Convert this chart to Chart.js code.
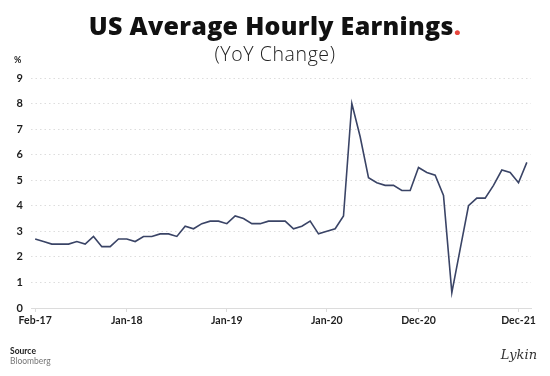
<!DOCTYPE html>
<html>
<head>
<meta charset="utf-8">
<script src="https://cdn.jsdelivr.net/npm/chart.js@4/dist/chart.umd.min.js"></script>
<style>
  body { margin: 0; background: #fff; }
  #wrap { position: relative; width: 550px; height: 376px; font-family: Lato, 'Open Sans', sans-serif; }
  canvas { position: absolute; left: 0; top: 0; }
  .title { position: absolute; left: 0; width: 550px; top: 13px; line-height: 25px; text-align: center; font-family: 'Open Sans', sans-serif; font-size: 25px; font-weight: 800; color: #111; letter-spacing: 0.3px; }
  .title span { color: #e8473e; }
  .sub { position: absolute; left: 0; width: 550px; top: 44px; line-height: 19px; text-align: center; font-family: 'Open Sans', sans-serif; font-size: 19.5px; font-weight: 300; color: #222; letter-spacing: 0.6px; }
  .pct { position: absolute; left: 14px; top: 54px; font-size: 9px; font-weight: 700; color: #222; }
  .src { position: absolute; left: 10px; top: 346px; font-size: 8.5px; line-height: 10px; color: #222; }
  .src b { font-weight: 700; }
  .src div { color: #777; }
  .sig { position: absolute; right: 13px; top: 347px; font-family: 'DejaVu Serif', serif; font-style: italic; font-size: 13px; color: #333; }
</style>
</head>
<body>
<div id="wrap">
  <canvas id="chart" width="550" height="376"></canvas>
  <div class="title">US Average Hourly Earnings<span>.</span></div>
  <div class="sub">(YoY Change)</div>
  <div class="pct">%</div>
  <div class="src"><b>Source</b><div>Bloomberg</div></div>
  <div class="sig">Lykin</div>
</div>
<script>
// monthly, Feb-17 .. Jan-22
const months = [
  'Feb-17', 'Mar-17', 'Apr-17', 'May-17', 'Jun-17', 'Jul-17', 'Aug-17', 'Sep-17', 'Oct-17', 'Nov-17', 'Dec-17',
  'Jan-18', 'Feb-18', 'Mar-18', 'Apr-18', 'May-18', 'Jun-18', 'Jul-18', 'Aug-18', 'Sep-18', 'Oct-18', 'Nov-18', 'Dec-18',
  'Jan-19', 'Feb-19', 'Mar-19', 'Apr-19', 'May-19', 'Jun-19', 'Jul-19', 'Aug-19', 'Sep-19', 'Oct-19', 'Nov-19', 'Dec-19',
  'Jan-20', 'Feb-20', 'Mar-20', 'Apr-20', 'May-20', 'Jun-20', 'Jul-20', 'Aug-20', 'Sep-20', 'Oct-20', 'Nov-20', 'Dec-20',
  'Jan-21', 'Feb-21', 'Mar-21', 'Apr-21', 'May-21', 'Jun-21', 'Jul-21', 'Aug-21', 'Sep-21', 'Oct-21', 'Nov-21', 'Dec-21',
  'Jan-22'
];
const earningsYoY = [
  2.7, 2.6, 2.5, 2.5, 2.5, 2.6, 2.5, 2.8, 2.4, 2.4, 2.7,
  2.7, 2.6, 2.8, 2.8, 2.9, 2.9, 2.8, 3.2, 3.1, 3.3, 3.4, 3.4,
  3.3, 3.6, 3.5, 3.3, 3.3, 3.4, 3.4, 3.4, 3.1, 3.2, 3.4, 2.9,
  3.0, 3.1, 3.6, 8.0, 6.7, 5.1, 4.9, 4.8, 4.8, 4.6, 4.6, 5.5,
  5.3, 5.2, 4.4, 0.6, 2.3, 4.0, 4.3, 4.3, 4.8, 5.4, 5.3, 4.9,
  5.7
];
const shownLabels = ['Feb-17', 'Jan-18', 'Jan-19', 'Jan-20', 'Dec-20', 'Dec-21'];

const tickFont = { family: 'Lato', weight: 'bold', size: 10.5 };

new Chart(document.getElementById('chart'), {
  type: 'line',
  data: {
    labels: months,
    datasets: [{
      data: earningsYoY,
      borderColor: '#3a4466',
      borderWidth: 1.6,
      pointRadius: 0,
      tension: 0
    }]
  },
  options: {
    responsive: false,
    devicePixelRatio: 1,
    animation: false,
    layout: { padding: { left: 0, right: 19, top: 78, bottom: 48 } },
    plugins: { legend: { display: false }, tooltip: { enabled: false } },
    scales: {
      x: {
        offset: true,
        grid: {
          drawOnChartArea: false,
          tickLength: 4,
          color: ctx => shownLabels.includes(months[ctx.index]) ? '#dcdcdc' : 'transparent'
        },
        border: { display: true, color: '#dcdcdc', width: 1 },
        ticks: {
          autoSkip: false,
          maxRotation: 0,
          padding: 2,
          color: '#1e1e1e',
          font: tickFont,
          callback: (v, i) => shownLabels.includes(months[i]) ? months[i] : ''
        },
        afterFit: scale => { scale.height = 20; }
      },
      y: {
        min: 0,
        max: 9,
        ticks: { stepSize: 1, padding: 8, color: '#1e1e1e', font: { family: 'Lato', weight: 'bold', size: 11 } },
        grid: {
          drawTicks: false,
          color: ctx => ctx.tick.value === 0 ? 'transparent' : '#dddddd',
          lineWidth: 1
        },
        border: { display: false, dash: [1.5, 3] },
        afterFit: scale => { scale.width = 31; }
      }
    }
  }
});
</script>
</body>
</html>
